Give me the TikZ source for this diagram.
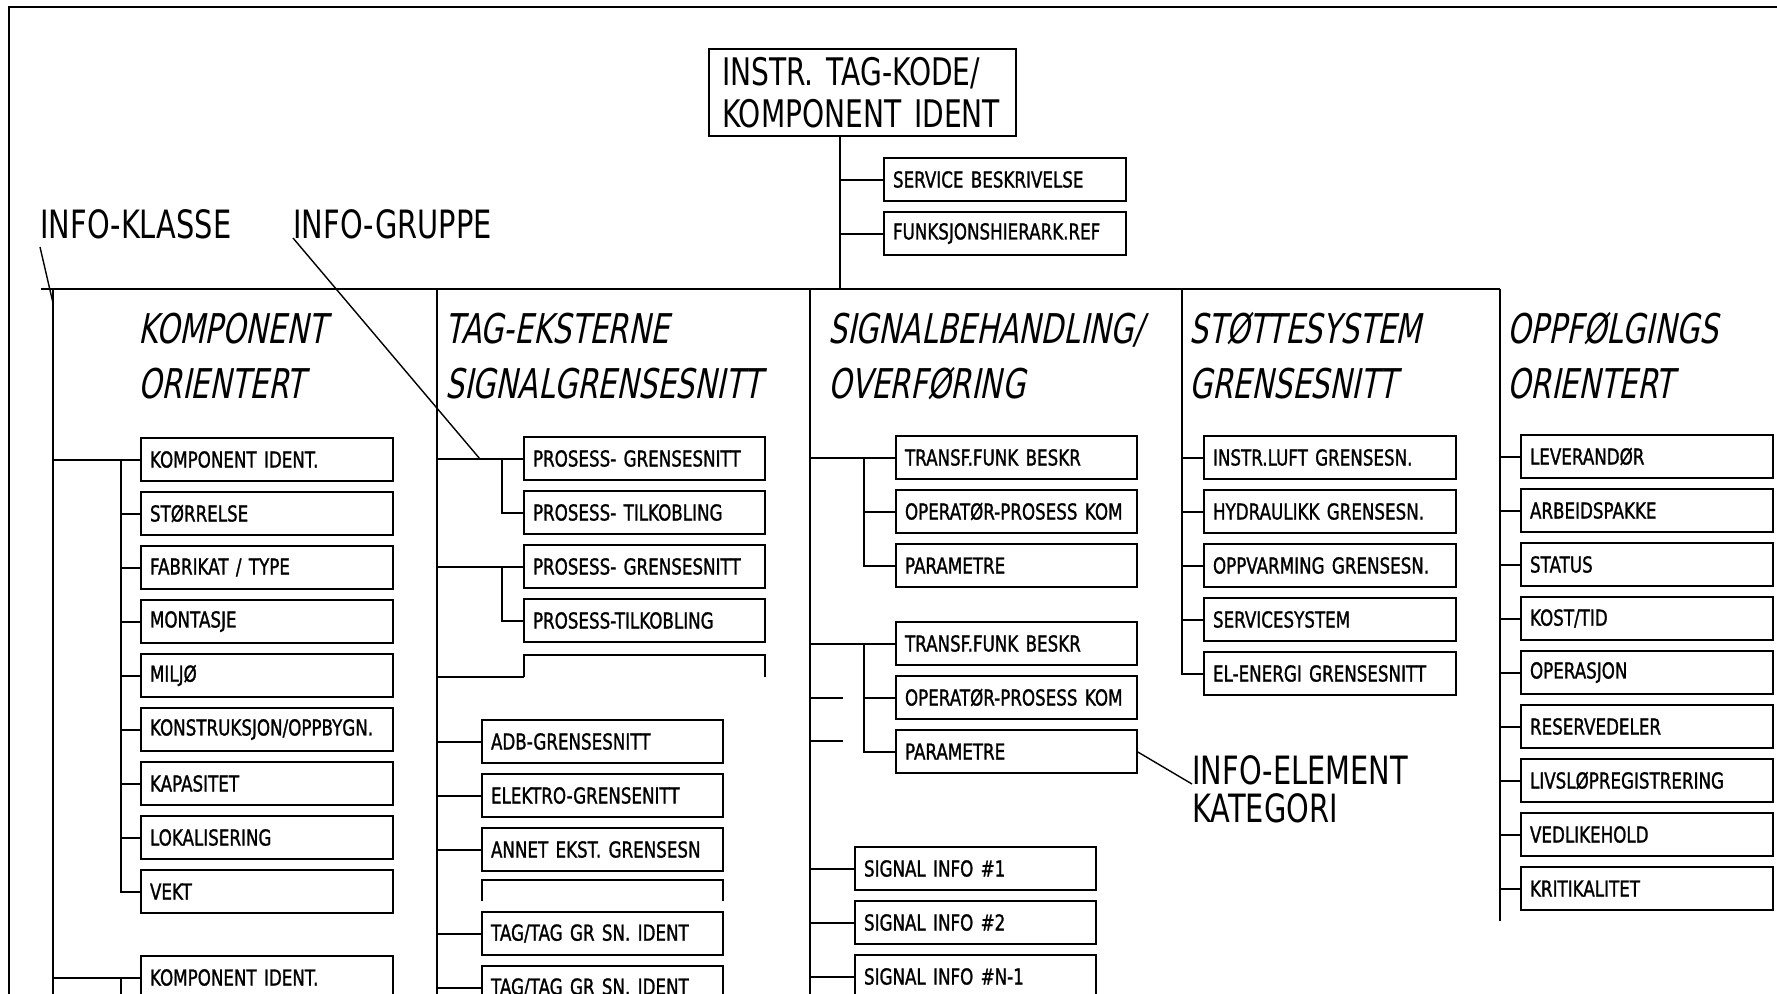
\documentclass[tikz,border=0pt]{standalone}
\usepackage{fontspec}
\newfontfamily\plotfont[FakeStretch=0.74]{DejaVu Sans}
\newfontfamily\boxfont[FakeStretch=0.76,FakeBold=1.2]{DejaVu Sans}
\newfontfamily\plotslant[FakeStretch=0.72,FakeSlant=0.2]{DejaVu Sans}
\usetikzlibrary{positioning}

\begin{document}
\begin{tikzpicture}[x=0.5pt,y=-0.5pt,node distance=5.5pt,
box/.style={draw,line width=1.1pt,anchor=north west,outer sep=0pt,inner xsep=4.5pt,inner ysep=0pt,minimum height=21.5pt,text width=#1,align=left,font=\boxfont\fontsize{11}{12}\selectfont},
box/.default=117pt,
topbox/.style={draw,line width=1.1pt,anchor=north west,outer sep=0pt,inner xsep=6.5pt,inner ysep=0pt,minimum height=43.5pt,text width=140.5pt,align=left,font=\plotfont\fontsize{19}{21}\selectfont},
head/.style={anchor=base west,inner sep=0pt,align=left,font=\plotslant\fontsize{20.5}{27.5}\selectfont},
lbl/.style={anchor=base west,inner sep=0pt,align=left,font=\plotfont\fontsize{19.5}{19}\selectfont},
conn/.style={line width=1pt},
ptr/.style={line width=0.7pt}]
\useasboundingbox (0,0) rectangle (1777,993);
\fill[white] (0,0) rectangle (1777,993);
\clip (0,0) rectangle (1777,993);
\draw[line width=1.2pt] (9,1010) |- (1790,7);

% top of the tree
\node[topbox] (tag) at (709,49) {INSTR. TAG-KODE/\\KOMPONENT IDENT};
\node[box=112pt] (svc) at (884,158) {SERVICE BESKRIVELSE};
\node[box=112pt,below=of svc] (fref) {FUNKSJONSHIERARK.REF};
\coordinate (trk) at (840,289);
\draw[conn] (tag.south -| trk) -- (trk);
\draw[conn] (svc.west -| trk) -- (svc.west); \draw[conn] (fref.west -| trk) -- (fref.west);

% bus and column trunks
\coordinate (c1) at (53,289); \coordinate (c2) at (437,289); \coordinate (c3) at (810,289);
\coordinate (c4) at (1182,289); \coordinate (c5) at (1500,289);
\draw[conn] (41,289) -- (c5);
\draw[conn] (c1) -- ++(0,720); \draw[conn] (c2) -- ++(0,720); \draw[conn] (c3) -- ++(0,720);

% labels
\node[lbl] (klasse) at (40,238) {INFO-KLASSE};
\node[lbl] (gruppe) at (293,238) {INFO-GRUPPE};
\coordinate (kl) at (53,303); \coordinate (gp) at (480,459);
\draw[ptr] ([yshift=-4.5pt]klasse.base west) -- (kl);
\draw[ptr] (gruppe.base west) -- (gp);

% column headers
\node[head] (h1) at (138,398) {KOMPONENT\\ORIENTERT};
\node[head] (h2) at (445,398) {TAG-EKSTERNE\\SIGNALGRENSESNITT};
\node[head] (h3) at (828,398) {SIGNALBEHANDLING/\\OVERFØRING};
\node[head] (h4) at (1189,398) {STØTTESYSTEM\\GRENSESNITT};
\node[head] (h5) at (1507,398) {OPPFØLGINGS\\ORIENTERT};

% column 1
\node[box] (k1) at (141,438) {KOMPONENT IDENT.};
\node[box,below=of k1] (k2) {STØRRELSE};
\node[box,below=of k2] (k3) {FABRIKAT / TYPE};
\node[box,below=of k3] (k4) {MONTASJE};
\node[box,below=of k4] (k5) {MILJØ};
\node[box,below=of k5] (k6) {KONSTRUKSJON/OPPBYGN.};
\node[box,below=of k6] (k7) {KAPASITET};
\node[box,below=of k7] (k8) {LOKALISERING};
\node[box,below=of k8] (k9) {VEKT};
\node[box] (k10) at (141,956) {KOMPONENT IDENT.};
\coordinate (b1) at (121,459);
\draw[conn] (k1.west -| c1) -- (k1.west); \draw[conn] (k1.west -| b1) |- (k9.west);
\foreach \n in {k2,k3,k4,k5,k6,k7,k8} \draw[conn] (\n.west -| b1) -- (\n.west);
\draw[conn] (k10.west -| c1) -- (k10.west); \draw[conn] (k10.west -| b1) -- ++(0,40);

% column 2
\node[box=111.5pt] (p1) at (524,437) {PROSESS- GRENSESNITT};
\node[box=111.5pt,below=of p1] (p2) {PROSESS- TILKOBLING};
\node[box=111.5pt,below=of p2] (p3) {PROSESS- GRENSESNITT};
\node[box=111.5pt,below=of p3] (p4) {PROSESS-TILKOBLING};
\coordinate (b2) at (502,459);
\draw[conn] (p1.west -| c2) -- (p1.west); \draw[conn] (p1.west -| b2) |- (p2.west);
\draw[conn] (p3.west -| c2) -- (p3.west); \draw[conn] (p3.west -| b2) |- (p4.west);
\coordinate (p5) at (524,677);
\draw[conn] (p5 -| c2) -- (p5);
\draw[line width=1.1pt] (p5) -- ++(0,-22) -- ++(241,0) -- ++(0,22);
\node[box=111.5pt] (a1) at (482,720) {ADB-GRENSESNITT};
\node[box=111.5pt,below=of a1] (a2) {ELEKTRO-GRENSENITT};
\node[box=111.5pt,below=of a2] (a3) {ANNET EKST. GRENSESN};
\coordinate (a4) at (482,901);
\draw[line width=1.1pt] (a4) -- ++(0,-21) -- ++(241,0) -- ++(0,21);
\node[box=111.5pt] (a5) at (482,912) {TAG/TAG GR SN. IDENT};
\node[box=111.5pt,below=of a5] (a6) {TAG/TAG GR SN. IDENT};
\foreach \n in {a1,a2,a3,a5,a6} \draw[conn] (\n.west -| c2) -- (\n.west);

% column 3
\node[box=111.5pt] (g1) at (896,436) {TRANSF.FUNK BESKR};
\node[box=111.5pt,below=of g1] (g2) {OPERATØR-PROSESS KOM};
\node[box=111.5pt,below=of g2] (g3) {PARAMETRE};
\node[box=111.5pt] (g4) at (896,622) {TRANSF.FUNK BESKR};
\node[box=111.5pt,below=of g4] (g5) {OPERATØR-PROSESS KOM};
\node[box=111.5pt,below=of g5] (g6) {PARAMETRE};
\coordinate (b3) at (864,458);
\draw[conn] (g1.west -| c3) -- (g1.west); \draw[conn] (g1.west -| b3) |- (g3.west); \draw[conn] (g2.west -| b3) -- (g2.west);
\draw[conn] (g4.west -| c3) -- (g4.west); \draw[conn] (g4.west -| b3) |- (g6.west); \draw[conn] (g5.west -| b3) -- (g5.west);
\coordinate (st) at (843,741);
\draw[conn] (g5.west -| c3) -- (g5.west -| st); \draw[conn] (st -| c3) -- (st);
\node[box=111.5pt] (s1) at (855,847) {SIGNAL INFO \#1};
\node[box=111.5pt,below=of s1] (s2) {SIGNAL INFO \#2};
\node[box=111.5pt,below=of s2] (s3) {SIGNAL INFO \#N-1};
\foreach \n in {s1,s2,s3} \draw[conn] (\n.west -| c3) -- (\n.west);
\node[lbl] (elem) at (1192,822) {INFO-ELEMENT\\KATEGORI};
\draw[ptr] (g6.east) -- ([yshift=19pt]elem.base west);

% column 4
\node[box] (e1) at (1204,436) {INSTR.LUFT GRENSESN.};
\node[box,below=of e1] (e2) {HYDRAULIKK GRENSESN.};
\node[box,below=of e2] (e3) {OPPVARMING GRENSESN.};
\node[box,below=of e3] (e4) {SERVICESYSTEM};
\node[box,below=of e4] (e5) {EL-ENERGI GRENSESNITT};
\draw[conn] (c4) |- (e5.west);
\foreach \n in {e1,e2,e3,e4} \draw[conn] (\n.west -| c4) -- (\n.west);

% column 5
\node[box] (f1) at (1521,435) {LEVERANDØR};
\node[box,below=of f1] (f2) {ARBEIDSPAKKE};
\node[box,below=of f2] (f3) {STATUS};
\node[box,below=of f3] (f4) {KOST/TID};
\node[box,below=of f4] (f5) {OPERASJON};
\node[box,below=of f5] (f6) {RESERVEDELER};
\node[box,below=of f6] (f7) {LIVSLØPREGISTRERING};
\node[box,below=of f7] (f8) {VEDLIKEHOLD};
\node[box,below=of f8] (f9) {KRITIKALITET};
\draw[conn] (c5) -- ++(0,632);
\foreach \n in {f1,f2,f3,f4,f5,f6,f7,f8,f9} \draw[conn] (\n.west -| c5) -- (\n.west);
\end{tikzpicture}
\end{document}
